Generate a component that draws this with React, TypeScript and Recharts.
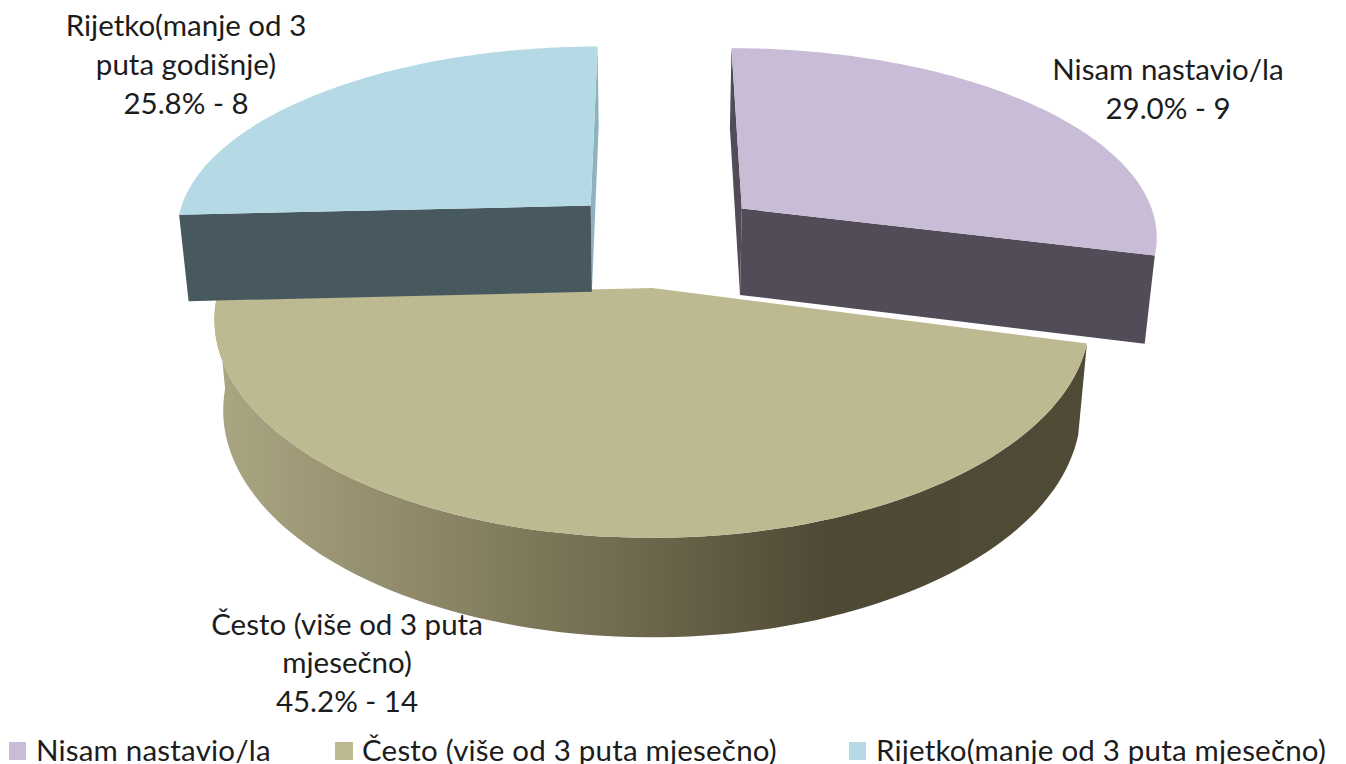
import React from "react";
import { PieChart, Pie, Legend } from "recharts";

const legendNames = ["Nisam nastavio/la", "Često (više od 3 puta mjesečno)", "Rijetko(manje od 3 puta mjesečno)"];
const counts = [9, 14, 8];
const labelLines = [["Nisam nastavio/la"], ["Često (više od 3 puta", "mjesečno)"], ["Rijetko(manje od 3", "puta godišnje)"]];

const topColors = ["#C8BCD7", "#BDB991", "#B5DAE5"];
const frontColors = ["#514C58", "url(#wallGradient)", "#47595F"];
const sideColors = ["#514C58", "#514C58", "#8FB2C0"];
const explode = [
  { x: 0.219, y: 0.392, ys: 0.945 },
  { x: 0, y: 0, ys: 1 },
  { x: -0.15, y: 0.408, ys: 0.94 },
];
const labelPos = [
  { x: 1168, y: 80 },
  { x: 347, y: 634.5 },
  { x: 186, y: 36 },
];
const legendPos = [
  { sx: 9, sw: 17, tx: 36 },
  { sx: 335, sw: 18, tx: 362 },
  { sx: 849, sw: 17, tx: 876 },
];

const FONT = "Lato, sans-serif";
const FS = 29.5;
const total = counts.reduce((a, b) => a + b, 0);
const chartData = legendNames.map((name, i) => ({ name, value: counts[i] }));

const K = 0.144;
const RY = 0.494;

function Slice(props: any) {
  const { cx, cy, outerRadius, startAngle, endAngle, index } = props;
  const e = explode[index];
  const project = (X: number, Y: number) => {
    const w = 1 + K * Y;
    return [cx + (outerRadius * X) / w, cy - (outerRadius * RY * Y) / w];
  };
  const lower = (p: number[]) => [cx + (p[0] - cx) * 0.98, p[1] + 77.9 + 0.04 * p[1]];
  const rimAt = (a: number) => {
    const r = (a * Math.PI) / 180;
    return project(e.x + Math.cos(r), e.y + e.ys * Math.sin(r));
  };
  const n = 96;
  const rim: number[][] = [];
  for (let i = 0; i <= n; i++) rim.push(rimAt(startAngle + ((endAngle - startAngle) * i) / n));
  const apex = project(e.x, e.y);
  const d = (pts: number[][]) => "M" + pts.map((p) => `${p[0].toFixed(1)},${p[1].toFixed(1)}`).join("L") + "Z";
  const first = rim[0];
  const last = rim[n];
  return (
    <g>
      <defs>
        <linearGradient id="wallGradient" gradientUnits="userSpaceOnUse" x1="214" y1="0" x2="1089" y2="0">
          <stop offset="0" stopColor="#ABA682" />
          <stop offset="0.2" stopColor="#938D6D" />
          <stop offset="0.45" stopColor="#736D51" />
          <stop offset="0.7" stopColor="#4E4935" />
          <stop offset="1" stopColor="#504B37" />
        </linearGradient>
      </defs>
      {index === 1 && <path d={d([...rim, ...rim.map(lower).reverse()])} fill={frontColors[1]} />}
      {index === 0 && <path d={d([first, lower(first), lower(apex), apex])} fill={sideColors[0]} />}
      {index === 0 && <path d={d([last, lower(last), lower(apex), apex])} fill={frontColors[0]} />}
      {index === 2 && <path d={d([last, lower(last), lower(apex), apex])} fill={sideColors[2]} />}
      {index === 2 && <path d={d([first, lower(first), lower(apex), apex])} fill={frontColors[2]} />}
      <path d={d([apex, ...rim])} fill={topColors[index]} />
    </g>
  );
}

function SliceLabel(props: any) {
  const { index } = props;
  const p = labelPos[index];
  const pct = `${((counts[index] / total) * 100).toFixed(1)}% - ${counts[index]}`;
  const lines = [...labelLines[index], pct];
  return (
    <text x={p.x} y={p.y} textAnchor="middle" fontFamily={FONT} fontSize={FS} fill="#1c1c1c">
      {lines.map((l, i) => (
        <tspan key={i} x={p.x} dy={i === 0 ? 0 : 38.8}>
          {l}
        </tspan>
      ))}
    </text>
  );
}

function LegendBox(props: any) {
  const items = props.payload ?? [];
  return (
    <div style={{ position: "relative", width: 1346, height: 29 }}>
      {items.map((it: any) => {
        const i = legendNames.indexOf(it.value);
        return (
          <React.Fragment key={i}>
            <span style={{ position: "absolute", left: legendPos[i].sx, top: 7, width: legendPos[i].sw, height: 18, background: topColors[i] }} />
            <span style={{ position: "absolute", left: legendPos[i].tx, top: 0, fontFamily: FONT, fontSize: FS, lineHeight: "29px", letterSpacing: 0.2, color: "#1c1c1c", whiteSpace: "nowrap" }}>
              {it.value}
            </span>
          </React.Fragment>
        );
      })}
    </div>
  );
}

export default function App() {
  return (
    <div style={{ position: "fixed", left: 0, top: 0, width: 1346, height: 764, overflow: "hidden", background: "#fff" }}>
      <PieChart width={1346} height={764} margin={{ top: 0, right: 0, bottom: 0, left: 0 }}>
        <Pie
          data={chartData}
          dataKey="value"
          nameKey="name"
          cx={652}
          cy={288}
          outerRadius={433}
          startAngle={90}
          endAngle={-270}
          stroke="none"
          isAnimationActive={false}
          shape={Slice}
          label={SliceLabel}
          labelLine={false}
        />
        <Legend content={LegendBox} itemSorter={null as any} wrapperStyle={{ position: "absolute", left: 0, top: 735, width: 1346, bottom: "auto" }} />
      </PieChart>
    </div>
  );
}
